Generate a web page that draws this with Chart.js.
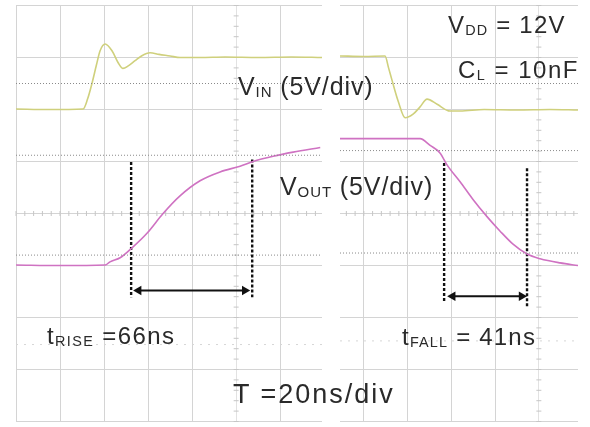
<!DOCTYPE html>
<html>
<head>
<meta charset="utf-8">
<script src="https://cdn.jsdelivr.net/npm/chart.js@4.4.0/dist/chart.umd.min.js"></script>
<style>
  body { margin: 0; background: #fff; }
  #wrap { position: relative; width: 590px; height: 427px; overflow: hidden; }
  canvas { position: absolute; top: 0; }
  .lbl { position: absolute; font-family: "Liberation Sans", Arial, sans-serif; color: #2a2a2a; line-height: 1; white-space: nowrap; }
  .lbl sub { font-size: 0.6em; vertical-align: -0.12em; line-height: 0; }
</style>
</head>
<body>
<div id="wrap">
  <canvas id="rise" width="330" height="427" style="left:0"></canvas>
  <canvas id="fall" width="260" height="427" style="left:330px"></canvas>

  <div class="lbl" style="left:448px; top:13px; font-size:24px; letter-spacing:1.2px">V<sub>DD</sub> = 12V</div>
  <div class="lbl" style="left:458px; top:58px; font-size:24px; letter-spacing:1.5px">C<sub>L</sub> = 10nF</div>
  <div class="lbl" style="left:238px; top:74px; font-size:25px; letter-spacing:0.9px">V<sub>IN</sub> (5V/div)</div>
  <div class="lbl" style="left:280px; top:174px; font-size:25px; letter-spacing:0.9px">V<sub>OUT</sub> (5V/div)</div>
  <div class="lbl" style="left:47px; top:324px; font-size:24px; letter-spacing:1.4px">t<sub>RISE</sub> =66ns</div>
  <div class="lbl" style="left:402px; top:325px; font-size:24px; letter-spacing:1.2px">t<sub>FALL</sub> = 41ns</div>
  <div class="lbl" style="left:233px; top:381px; font-size:27px; letter-spacing:2px">T =20ns/div</div>
</div>

<script>
// time in ns (20 ns/div), level in divisions (0 = bottom of screen)
const yTicks = [0, 1, 2, 3, 4, 5, 6, 7, 8];
const riseTicks = [0, 20, 40, 60, 80, 100, 120];
const fallTicks = [20, 40, 60, 80, 100];
const riseRange = [0, 139];
const fallRange = [9.1, 117.9];

// rising edge screen
const vinRiseT = [0, 15, 30.5, 32.5, 34.5, 36.5, 38.2, 40.5, 43.6, 46.4, 48.6, 51, 54.1, 57, 60.9, 65, 70, 74.5, 83.6, 95, 110, 125, 139];
const vinRiseV = [6.01, 6.0, 6.01, 6.2, 6.5, 6.85, 7.13, 7.26, 7.13, 6.9, 6.79, 6.84, 6.94, 7.03, 7.09, 7.06, 7.03, 7.0, 7.0, 7.01, 7.0, 7.01, 7.0];
const voutRiseT = [0, 20, 40.5, 42.7, 47.3, 52.7, 59.5, 66.8, 74.5, 83.6, 92.7, 101.8, 107.7, 116.8, 125.9, 138.2];
const voutRiseV = [3.01, 3.0, 3.01, 3.07, 3.15, 3.34, 3.62, 4.0, 4.34, 4.63, 4.8, 4.91, 5.0, 5.1, 5.18, 5.27];
const riseLevels = [6.5, 5.12, 3.2];
const riseFaint = [1.48];
const riseCursorT = [52.3, 107.3];
const riseCursorTop = [4.99, 5.04];
const riseCursorBottom = [2.39, 2.39];
const riseArrowT = [55.7, 103.9];
const riseArrowY = 2.52;

// falling edge screen
const vinFallT = [9.1, 20, 29.7, 31.3, 32.9, 35.7, 38.9, 42.5, 45.7, 48.9, 53.5, 59.4, 64, 75, 90, 105, 117.9];
const vinFallV = [7.03, 7.02, 7.03, 6.8, 6.56, 6.16, 5.84, 5.91, 6.05, 6.2, 6.1, 5.97, 5.97, 6.0, 5.99, 6.0, 5.99];
const voutFallT = [9.1, 27.4, 45.7, 50.3, 54.9, 58.1, 64, 69.9, 76.3, 82.3, 88.2, 94.6, 100.6, 109.7, 117.9];
const voutFallV = [5.44, 5.44, 5.44, 5.31, 5.16, 4.93, 4.61, 4.27, 3.94, 3.66, 3.41, 3.22, 3.13, 3.05, 3.0];
const fallLevels = [6.5, 5.21, 3.24];
const fallFaint = [1.55];
const fallCursorT = [56.7, 94.6];
const fallCursorTop = [4.97, 4.87];
const fallCursorBottom = [2.29, 2.18];
const fallArrowT = [60.6, 92.1];
const fallArrowY = 2.41;

const VIN_COLOR = '#cfd07c';
const VOUT_COLOR = '#cf72c2';
const GRID = '#d4d4d4';

function pts(ts, vs) {
    return ts.map((t, i) => ({ x: t, y: vs[i] }));
}

// small tick marks along the centre lines of the scope screen
const centerTicks = {
    id: 'centerTicks',
    beforeDatasetsDraw(chart) {
        const { ctx, chartArea: a } = chart;
        const x = chart.scales.x, y = chart.scales.y;
        const cy = y.getPixelForValue(4), cx = x.getPixelForValue(100);
        ctx.save();
        ctx.strokeStyle = '#c6c6c6';
        ctx.lineWidth = 1;
        ctx.beginPath();
        for (let t = 0; t <= 140; t += 4) {
            const px = x.getPixelForValue(t);
            if (px < a.left || px > a.right) continue;
            ctx.moveTo(px, cy - 2.5); ctx.lineTo(px, cy + 2.5);
        }
        for (let i = 0; i <= 40; i++) {
            const py = y.getPixelForValue(i / 5);
            ctx.moveTo(cx - 2.5, py); ctx.lineTo(cx + 2.5, py);
        }
        ctx.stroke();
        ctx.restore();
    }
};

function screenDatasets(s) {
    const ds = [];
    s.levels.forEach(v => ds.push({
        data: [{ x: s.range[0], y: v }, { x: s.range[1], y: v }],
        borderColor: '#8a8a8a', borderWidth: 1, borderDash: [1, 2], pointRadius: 0
    }));
    s.faint.forEach(v => ds.push({
        data: [{ x: s.range[0], y: v }, { x: s.range[1], y: v }],
        borderColor: '#d6d6d6', borderWidth: 1, borderDash: [2, 6], pointRadius: 0
    }));
    ds.push({ data: pts(s.vinT, s.vinV), borderColor: VIN_COLOR, borderWidth: 1.6, pointRadius: 0, cubicInterpolationMode: 'monotone' });
    ds.push({ data: pts(s.voutT, s.voutV), borderColor: VOUT_COLOR, borderWidth: 1.6, pointRadius: 0, cubicInterpolationMode: 'monotone' });
    s.cursorT.forEach((t, i) => ds.push({
        data: [{ x: t, y: s.cursorTop[i] }, { x: t, y: s.cursorBottom[i] }],
        borderColor: '#111', borderWidth: 2.4, borderDash: [3, 2], pointRadius: 0
    }));
    ds.push({
        data: pts(s.arrowT, [s.arrowY, s.arrowY]),
        borderColor: '#111', borderWidth: 2, backgroundColor: '#111',
        pointStyle: 'triangle', pointRadius: 5.5, pointRotation: [270, 90], pointBorderWidth: 0
    });
    return ds;
}

function makeScreen(id, s, padding) {
    return new Chart(document.getElementById(id), {
        type: 'line',
        data: { datasets: screenDatasets(s) },
        plugins: [centerTicks],
        options: {
            responsive: false,
            animation: false,
            layout: { padding: padding },
            plugins: { legend: { display: false }, tooltip: { enabled: false } },
            scales: {
                x: {
                    type: 'linear', min: s.range[0], max: s.range[1],
                    afterBuildTicks: sc => { sc.ticks = s.xTicks.map(v => ({ value: v })); },
                    ticks: { display: false },
                    border: { display: false },
                    grid: { drawTicks: false, color: c => (c.tick && c.tick.value === 100) ? '#e2e2e2' : GRID }
                },
                y: {
                    min: 0, max: 8,
                    afterBuildTicks: sc => { sc.ticks = yTicks.map(v => ({ value: v })); },
                    ticks: { display: false },
                    border: { display: false },
                    grid: { drawTicks: false, color: GRID }
                }
            }
        }
    });
}

makeScreen('rise', {
    range: riseRange, xTicks: riseTicks, levels: riseLevels, faint: riseFaint,
    vinT: vinRiseT, vinV: vinRiseV, voutT: voutRiseT, voutV: voutRiseV,
    cursorT: riseCursorT, cursorTop: riseCursorTop, cursorBottom: riseCursorBottom,
    arrowT: riseArrowT, arrowY: riseArrowY
}, { left: 16, top: 4, right: 8, bottom: 1 });

makeScreen('fall', {
    range: fallRange, xTicks: fallTicks, levels: fallLevels, faint: fallFaint,
    vinT: vinFallT, vinV: vinFallV, voutT: voutFallT, voutV: voutFallV,
    cursorT: fallCursorT, cursorTop: fallCursorTop, cursorBottom: fallCursorBottom,
    arrowT: fallArrowT, arrowY: fallArrowY
}, { left: 10, top: 3, right: 12, bottom: 2 });
</script>
</body>
</html>
